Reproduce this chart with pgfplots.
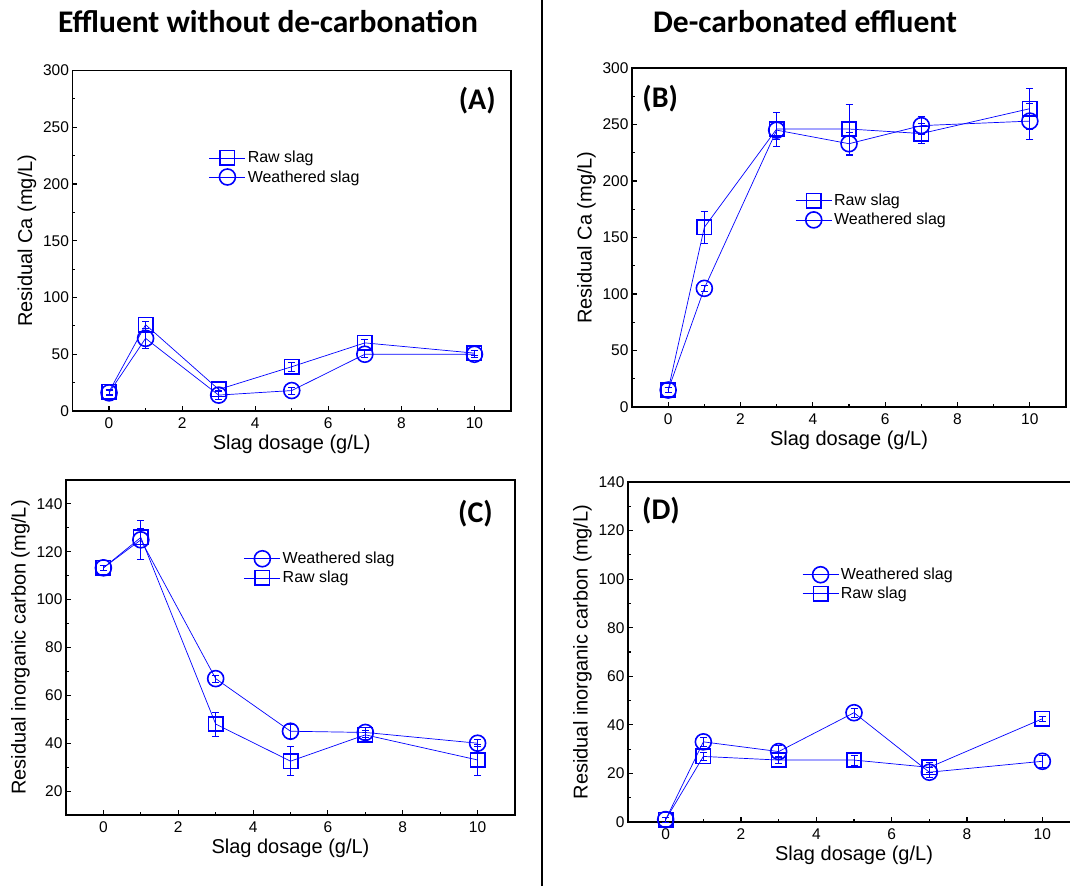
\documentclass[border=0pt]{standalone}
\usepackage{pgfplots}
\pgfplotsset{compat=1.18}
\usepackage{fontspec}
\setmainfont{Liberation Sans}
\newfontfamily\calibri{Carlito}
\tikzset{plab/.style={font=\calibri\bfseries\fontsize{30}{34}\selectfont}}
\pgfplotsset{
 panel/.style={
  scale only axis, anchor=south west, xmin=-1, xmax=11,
  xtick={0,2,...,10}, minor xtick={1,3,5,7,9},
  tick align=inside, xtick pos=left, ytick pos=left,
  major tick length=5pt, minor tick length=3pt,
  tick style={black, line width=1.1pt},
  axis line style={line width=1.4pt},
  ticklabel style={font=\fontsize{15.5}{17}\selectfont},
  xticklabel style={yshift=-3pt},
  label style={font=\fontsize{20}{24}\selectfont},
  xlabel={Slag dosage (g/L)},
  /pgf/number format/assume math mode=true,
  legend cell align=left,
  legend style={draw=none, fill=none, font=\fontsize{16}{19}\selectfont, anchor=north west, inner sep=0pt, row sep=2pt},
  legend image code/.code={\draw[##1,mark repeat=2,mark phase=2] plot coordinates {(0pt,0pt)(18pt,0pt)(36pt,0pt)};},
 },
 raw/.style={blue, line width=0.7pt, mark=square, mark size=7.2pt, mark options={line width=1.6pt, solid, blue},
   error bars/.cd, y dir=both, y explicit, error bar style={line width=0.7pt, blue}, error mark options={rotate=90, mark size=3.5pt, line width=0.7pt, blue}},
 wea/.style={blue, line width=0.7pt, mark=o, mark size=8pt, mark options={line width=1.6pt, solid, blue},
   error bars/.cd, y dir=both, y explicit, error bar style={line width=0.7pt, blue}, error mark options={rotate=90, mark size=3.5pt, line width=0.7pt, blue}},
}
\begin{document}
\begin{tikzpicture}[x=1pt,y=1pt]
\useasboundingbox (0,0) rectangle (1070,886);
\draw[line width=2pt] (541.5,0) -- (541.5,886);
\node[anchor=base] at (268,853) {\calibri\bfseries\fontsize{31.5}{36}\selectfont Effluent without de-carbonation};
\node[anchor=base] at (805,853) {\calibri\bfseries\fontsize{31.5}{36}\selectfont De-carbonated effluent};

% (A)
\begin{axis}[panel, at={(72.5pt,475pt)}, width=438.5pt, height=340.5pt,
  ymin=0, ymax=300, ytick={0,50,...,300}, minor ytick={25,75,...,275},
  ylabel={Residual Ca (mg/L)},
  legend style={at={(0.311,0.769)}}]
\addplot[raw] coordinates {(0,17) +- (0,2) (1,76) +- (0,3) (3,19) +- (0,2) (5,39) +- (0,4) (7,60) +- (0,3) (10,51) +- (0,2)};
\addlegendentry{Raw slag}
\addplot[wea] coordinates {(0,16) +- (0,2) (1,64) +- (0,9) (3,14) +- (0,4) (5,18) +- (0,3) (7,50) +- (0,3) (10,50) +- (0,3)};
\addlegendentry{Weathered slag}
\node[plab] at (rel axis cs:0.923,0.91) {(A)};
\end{axis}

% (B)
\begin{axis}[panel, at={(632pt,479pt)}, width=434pt, height=339pt,
  ymin=0, ymax=300, ytick={0,50,...,300}, minor ytick={25,75,...,275},
  ylabel={Residual Ca (mg/L)},
  legend style={at={(0.376,0.634)}}]
\addplot[raw] coordinates {(0,15) +- (0,2) (1,159) +- (0,14) (3,246) +- (0,15) (5,246) +- (0,22) (7,242) +- (0,9) (10,264) +- (0,18)};
\addlegendentry{Raw slag}
\addplot[wea] coordinates {(0,15) +- (0,2) (1,105) +- (0,3) (3,245) +- (0,8) (5,233) +- (0,10) (7,249) +- (0,8) (10,253) +- (0,16)};
\addlegendentry{Weathered slag}
\node[plab] at (rel axis cs:0.065,0.91) {(B)};
\end{axis}

% (C)
\begin{axis}[panel, at={(66pt,71pt)}, width=449pt, height=335pt,
  ymin=10, ymax=150, ytick={20,40,...,140}, minor ytick={30,50,...,150},
  ylabel={Residual inorganic carbon (mg/L)},
  legend style={at={(0.396,0.791)}}]
\addplot[wea] coordinates {(0,113.3) +- (0,1) (1,125) +- (0,8) (3,67) +- (0,1.5) (5,45) +- (0,3) (7,44.5) +- (0,2) (10,40) +- (0,1.5)};
\addlegendentry{Weathered slag}
\addplot[raw] coordinates {(0,113.3) +- (0,1) (1,126) +- (0,4) (3,48) +- (0,5) (5,32.5) +- (0,6) (7,43.5) +- (0,2) (10,33) +- (0,6.5)};
\addlegendentry{Raw slag}
\node[plab] at (rel axis cs:0.912,0.90) {(C)};
\end{axis}

% (D)
\begin{axis}[panel, at={(628pt,64pt)}, width=452pt, height=340pt,
  ymin=0, ymax=140, ytick={0,20,...,140}, minor ytick={10,30,...,130},
  ylabel={Residual inorganic carbon (mg/L)},
  legend style={at={(0.385,0.753)}}]
\addplot[wea] coordinates {(0,1) +- (0,1) (1,33) +- (0,2) (3,29) +- (0,2.5) (5,45) +- (0,2) (7,20.5) +- (0,2) (10,25) +- (0,2.5)};
\addlegendentry{Weathered slag}
\addplot[raw] coordinates {(0,1) +- (0,1) (1,27) +- (0,1.5) (3,25.5) +- (0,1.5) (5,25.5) +- (0,2) (7,22.5) +- (0,2) (10,42.5) +- (0,1)};
\addlegendentry{Raw slag}
\node[plab] at (rel axis cs:0.073,0.915) {(D)};
\end{axis}
\end{tikzpicture}
\end{document}
